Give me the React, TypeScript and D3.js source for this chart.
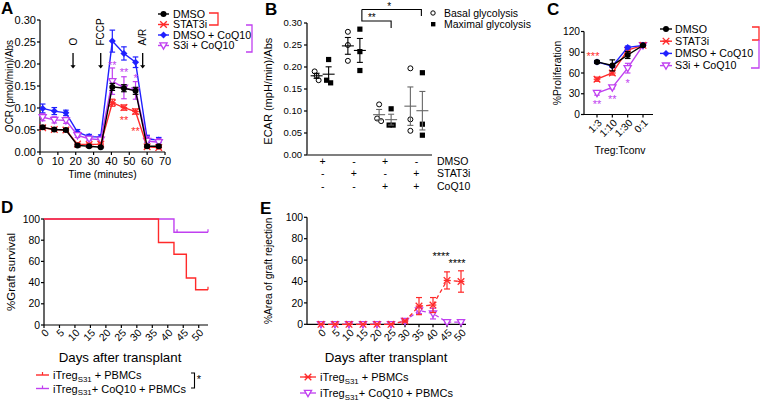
import React from "react";
import * as d3 from "d3";

const FONT = "'Liberation Sans', Arial, Helvetica, sans-serif";
const RED = "#ff2a2a";
const BLUE = "#2020ff";
const PURPLE = "#c040f0";
const BLACK = "#000000";

// ---------- Panel A data ----------
const timeA = [1.5, 8, 14.5, 21, 27.5, 34, 40.5, 47, 53.5, 60, 66.5];
const dmsoA = [0.056, 0.051, 0.05, 0.015, 0.013, 0.011, 0.148, 0.145, 0.139, 0.013, 0.013];
const dmsoAErr = [0.004, 0.003, 0.003, 0.003, 0.002, 0.002, 0.008, 0.008, 0.008, 0.003, 0.003];
const stat3iA = [0.055, 0.051, 0.05, 0.018, 0.017, 0.018, 0.112, 0.101, 0.092, 0.012, 0.01];
const stat3iAErr = [0.003, 0.003, 0.003, 0.003, 0.003, 0.003, 0.008, 0.006, 0.006, 0.003, 0.003];
const coqA = [0.099, 0.093, 0.089, 0.045, 0.035, 0.034, 0.252, 0.224, 0.204, 0.03, 0.027];
const coqAErr = [0.01, 0.008, 0.006, 0.006, 0.005, 0.005, 0.025, 0.015, 0.012, 0.008, 0.006];
const s3iCoqA = [0.079, 0.073, 0.072, 0.038, 0.03, 0.028, 0.161, 0.146, 0.14, 0.025, 0.022];
const s3iCoqAErr = [0.008, 0.007, 0.007, 0.005, 0.004, 0.004, 0.03, 0.025, 0.02, 0.01, 0.008];
const injectionsA = [
  { label: "O", t: 18.5 },
  { label: "FCCP", t: 34 },
  { label: "A/R", t: 57.5 },
];
const starsA = [
  { text: "**", t: 40.5, v: 0.203, color: PURPLE },
  { text: "**", t: 47, v: 0.187, color: PURPLE },
  { text: "*", t: 53.5, v: 0.172, color: PURPLE },
  { text: "**", t: 47, v: 0.078, color: RED },
  { text: "**", t: 53.5, v: 0.052, color: RED },
];

// ---------- Panel B data ----------
const dmsoRowB = ["+", "-", "+", "-"];
const stat3iRowB = ["-", "+", "-", "+"];
const coqRowB = ["-", "-", "+", "+"];
const basalB = [
  [0.19, 0.18, 0.17],
  [0.28, 0.25, 0.214],
  [0.115, 0.083, 0.077],
  [0.197, 0.081, 0.055],
];
const maximalB = [
  [0.217, 0.17, 0.164],
  [0.286, 0.235, 0.192],
  [0.105, 0.068, 0.068],
  [0.187, 0.07, 0.045],
];

// ---------- Panel C data ----------
const ratiosC = ["1:3", "1:10", "1:30", "0:1"];
const dmsoC = [76, 71, 86, 100];
const dmsoCErr = [2, 8, 5, 1];
const stat3iC = [51, 60, 93, 100];
const stat3iCErr = [3, 3, 2, 1];
const coqC = [76, 70, 97, 100];
const coqCErr = [2, 2, 2, 1];
const s3iCoqC = [31, 39, 67, 100];
const s3iCoqCErr = [3, 2, 7, 1];
const starsC = [
  { text: "***", i: 0, v: 88, color: RED, dx: -4 },
  { text: "**", i: 0, v: 18, color: PURPLE, dx: 0 },
  { text: "**", i: 1, v: 25, color: PURPLE, dx: 0 },
  { text: "*", i: 2, v: 48, color: PURPLE, dx: 0 },
];

// ---------- Panel D data ----------
const ticksD = [0, 5, 10, 15, 20, 25, 30, 35, 40, 45, 50];
const survRedDays = [0, 37, 42, 46, 49, 53];
const survRed = [100, 77.8, 66.7, 44.4, 33.3, 33.3];
const survRedCensor = [53];
const survPurpleDays = [0, 42, 53];
const survPurple = [100, 87.5, 87.5];
const survPurpleCensor = [43, 53];

// ---------- Panel E data ----------
const daysE = [0, 5, 10, 15, 20, 25, 30, 35, 40, 45, 50];
const rejRed = [0, 0, 0, 0, 0, 0, 3, 17, 18, 41, 40];
const rejRedErr = [0, 0, 0, 0, 0, 0, 1, 8, 7, 8, 10];
const rejPurple = [0, 0, 0, 0, 0, 0, 3, 13, 10, 2, 2];
const rejPurpleErr = [0, 0, 0, 0, 0, 0, 1, 3, 5, 1, 1];

type MType = "circle" | "star" | "diamond" | "tri";

function Marker({ type, x, y, color, s = 1 }: { type: MType; x: number; y: number; color: string; s?: number }) {
  if (type === "circle") return <circle cx={x} cy={y} r={3 * s} fill={color} />;
  if (type === "diamond")
    return (
      <path
        d={`M${x},${y - 3.5 * s}L${x + 3.5 * s},${y}L${x},${y + 3.5 * s}L${x - 3.5 * s},${y}Z`}
        fill={color}
      />
    );
  if (type === "tri")
    return (
      <path
        d={`M${x - 3.6 * s},${y - 2.6 * s}L${x + 3.6 * s},${y - 2.6 * s}L${x},${y + 3.6 * s}Z`}
        fill="#fff"
        stroke={color}
        strokeWidth={1.3}
      />
    );
  const r = 3.3 * s;
  return (
    <g stroke={color} strokeWidth={1.3}>
      <line x1={x - r} y1={y - r} x2={x + r} y2={y + r} />
      <line x1={x - r} y1={y + r} x2={x + r} y2={y - r} />
      <line x1={x - r} y1={y} x2={x + r} y2={y} />
    </g>
  );
}

function ErrBar({ x, y1, y2, color, cap = 3, w = 1.2 }: { x: number; y1: number; y2: number; color: string; cap?: number; w?: number }) {
  return (
    <g stroke={color} strokeWidth={w}>
      <line x1={x} y1={y1} x2={x} y2={y2} />
      <line x1={x - cap} y1={y1} x2={x + cap} y2={y1} />
      <line x1={x - cap} y1={y2} x2={x + cap} y2={y2} />
    </g>
  );
}

function PanelA() {
  const x = d3.scaleLinear().domain([0, 70]).range([40, 165]);
  const y = d3.scaleLinear().domain([0, 0.3]).range([152, 20]);
  const series = [
    { name: "DMSO", v: dmsoA, e: dmsoAErr, c: BLACK, m: "circle" as MType },
    { name: "STAT3i", v: stat3iA, e: stat3iAErr, c: RED, m: "star" as MType },
    { name: "DMSO + CoQ10", v: coqA, e: coqAErr, c: BLUE, m: "diamond" as MType },
    { name: "S3i + CoQ10", v: s3iCoqA, e: s3iCoqAErr, c: PURPLE, m: "tri" as MType },
  ];
  const drawOrder = [2, 3, 1, 0];
  const line = d3
    .line<number>()
    .x((_, i) => x(timeA[i]))
    .y((d) => y(d));
  const yt = d3.range(0, 0.3001, 0.05);
  const xt = d3.range(0, 71, 10);
  return (
    <g>
      <text x={1} y={14} fontSize={17} fontWeight="bold">A</text>
      {/* axes */}
      <line x1={40} y1={y(0.3)} x2={40} y2={152} stroke="#000" strokeWidth={1.2} />
      <line x1={40} y1={152} x2={x(70)} y2={152} stroke="#000" strokeWidth={1.2} />
      {yt.map((t) => (
        <g key={t}>
          <line x1={37} x2={40} y1={y(t)} y2={y(t)} stroke="#000" strokeWidth={1.2} />
          <text x={36} y={y(t) + 3.8} fontSize={11} textAnchor="end">{t.toFixed(2)}</text>
        </g>
      ))}
      {xt.map((t) => (
        <g key={t}>
          <line x1={x(t)} x2={x(t)} y1={152} y2={155} stroke="#000" strokeWidth={1.2} />
          <text x={x(t)} y={165} fontSize={11} textAnchor="middle">{t}</text>
        </g>
      ))}
      <text x={x(35)} y={178} fontSize={10.3} textAnchor="middle">Time (minutes)</text>
      <text transform={`translate(13,${y(0.15)}) rotate(-90)`} fontSize={10} textAnchor="middle">
        OCR (pmol/min)/Abs
      </text>
      {/* injection arrows */}
      {injectionsA.map((a) => (
        <g key={a.label}>
          <line x1={x(a.t)} x2={x(a.t)} y1={y(0.225)} y2={y(0.195)} stroke="#000" strokeWidth={1.3} />
          <path d={`M${x(a.t) - 2.6},${y(0.197)}L${x(a.t) + 2.6},${y(0.197)}L${x(a.t)},${y(0.19)}Z`} fill="#000" />
          <text
            transform={`translate(${x(a.t) + 3.6},${y(0.242)}) rotate(-90)`}
            fontSize={10}
            textAnchor="start"
          >
            {a.label}
          </text>
        </g>
      ))}
      {/* series */}
      {drawOrder.map((si) => {
        const s = series[si];
        return (
          <g key={s.name}>
            <path d={line(s.v) || ""} fill="none" stroke={s.c} strokeWidth={1.4} />
            {s.v.map((v, i) => (
              <ErrBar key={"e" + i} x={x(timeA[i])} y1={y(v - s.e[i])} y2={y(v + s.e[i])} color={s.c} cap={2.8} />
            ))}
            {s.v.map((v, i) => (
              <Marker key={"m" + i} type={s.m} x={x(timeA[i])} y={y(v)} color={s.c} />
            ))}
          </g>
        );
      })}
      {starsA.map((s, i) => (
        <text key={i} x={x(s.t)} y={y(s.v) + 6} fontSize={11} fill={s.color} textAnchor="middle">
          {s.text}
        </text>
      ))}
      {/* legend */}
      {series.map((s, i) => {
        const ly = 14 + i * 10.5;
        return (
          <g key={s.name}>
            <line x1={158} x2={169} y1={ly} y2={ly} stroke={s.c} strokeWidth={1.4} />
            <Marker type={s.m} x={163.5} y={ly} color={s.c} />
            <text x={173} y={ly + 3.8} fontSize={10.7}>{s.name}</text>
          </g>
        );
      })}
      <path d="M209,13H218V25H209" fill="none" stroke={RED} strokeWidth={1.3} />
      <path d="M246,25H252V52H246" fill="none" stroke={PURPLE} strokeWidth={1.3} />
    </g>
  );
}

function PanelB() {
  const xb = d3.scaleBand<number>().domain([0, 1, 2, 3]).range([307, 432]);
  const bw = xb.bandwidth();
  const y = d3.scaleLinear().domain([0, 0.3]).range([155, 23]);
  const yt = d3.range(0, 0.3001, 0.05);
  const jitter = (vals: number[]) =>
    vals.map((v, j) => {
      const close = vals.map((w, k) => (Math.abs(w - v) < 0.012 ? k : -1)).filter((k) => k >= 0);
      if (close.length < 2) return 0;
      const pos = close.indexOf(j);
      return (pos - (close.length - 1) / 2) * 4;
    });
  const sem = (a: number[]) => (d3.deviation(a) || 0) / Math.sqrt(a.length);
  const rows = [
    { name: "DMSO", v: dmsoRowB },
    { name: "STAT3i", v: stat3iRowB },
    { name: "CoQ10", v: coqRowB },
  ];
  const c = (i: number) => (xb(i) || 0) + bw / 2;
  return (
    <g>
      <text x={265} y={15} fontSize={17} fontWeight="bold">B</text>
      <line x1={307} y1={y(0.3)} x2={307} y2={155} stroke="#000" strokeWidth={1.2} />
      <line x1={307} y1={155} x2={432} y2={155} stroke="#555" strokeWidth={1.6} />
      {yt.map((t) => (
        <g key={t}>
          <line x1={304} x2={307} y1={y(t)} y2={y(t)} stroke="#000" strokeWidth={1.2} />
          <text x={302} y={y(t) + 3.3} fontSize={9.5} textAnchor="end">{t.toFixed(2)}</text>
        </g>
      ))}
      <text transform={`translate(272,${y(0.145)}) rotate(-90)`} fontSize={11} textAnchor="middle">
        ECAR (mpH/min)/Abs
      </text>
      {rows.map((r, ri) => (
        <g key={r.name}>
          {r.v.map((s, i) => (
            <text key={i} x={c(i)} y={164.5 + ri * 12.5} fontSize={10.5} textAnchor="middle">{s}</text>
          ))}
          <text x={437} y={164.5 + ri * 12.5} fontSize={10.5}>{r.name}</text>
        </g>
      ))}
      {[0, 1, 2, 3].map((g) => {
        const ec = g < 2 ? "#000" : "#666";
        const sets = [
          { vals: basalB[g], off: -6, kind: "o" },
          { vals: maximalB[g], off: 6, kind: "s" },
        ];
        return (
          <g key={g}>
            {sets.map((st, si) => {
              const cx = c(g) + st.off;
              const m = d3.mean(st.vals) || 0;
              const e = sem(st.vals);
              const jit = jitter(st.vals);
              return (
                <g key={si}>
                  {st.vals.map((v, j) =>
                    st.kind === "o" ? (
                      <circle key={j} cx={cx + jit[j]} cy={y(v)} r={2.5} fill="#fff" stroke="#000" strokeWidth={1} />
                    ) : (
                      <rect key={j} x={cx + jit[j] - 2.6} y={y(v) - 2.6} width={5.2} height={5.2} fill="#000" />
                    )
                  )}
                  <line x1={cx - 6} x2={cx + 6} y1={y(m)} y2={y(m)} stroke={ec} strokeWidth={1.1} />
                  <ErrBar x={cx} y1={y(m - e)} y2={y(m + e)} color={ec} cap={3} w={1.1} />
                </g>
              );
            })}
          </g>
        );
      })}
      {/* significance */}
      <path d={`M${c(1) + 8},9.5V21H${c(2) + 6}V28`} fill="none" stroke="#000" strokeWidth={1.1} />
      <path d={`M${c(1) + 8},9.5H${c(3) + 5}V16`} fill="none" stroke="#000" strokeWidth={1.1} />
      <text x={c(1) + 18} y={21} fontSize={10} textAnchor="middle">**</text>
      <text x={c(2) + 4} y={10} fontSize={10} textAnchor="middle">*</text>
      {/* legend */}
      <circle cx={433} cy={13} r={2.2} fill="#fff" stroke="#000" strokeWidth={1} />
      <text x={444} y={16.8} fontSize={10.5}>Basal glycolysis</text>
      <rect x={431} y={22} width={4.4} height={4.4} fill="#000" />
      <text x={444} y={28} fontSize={10.5}>Maximal glycolysis</text>
    </g>
  );
}

function PanelC() {
  const x = d3.scalePoint<string>().domain(ratiosC).range([597, 643]);
  const y = d3.scaleLinear().domain([0, 120]).range([114.5, 31.5]);
  const series = [
    { name: "DMSO", v: dmsoC, e: dmsoCErr, c: BLACK, m: "circle" as MType },
    { name: "STAT3i", v: stat3iC, e: stat3iCErr, c: RED, m: "star" as MType },
    { name: "DMSO + CoQ10", v: coqC, e: coqCErr, c: BLUE, m: "diamond" as MType },
    { name: "S3i + CoQ10", v: s3iCoqC, e: s3iCoqCErr, c: PURPLE, m: "tri" as MType },
  ];
  const drawOrder = [3, 1, 2, 0];
  const line = d3
    .line<number>()
    .x((_, i) => x(ratiosC[i]) || 0)
    .y((d) => y(d));
  const yt = [0, 30, 60, 90, 120];
  return (
    <g>
      <text x={547} y={15} fontSize={17} fontWeight="bold">C</text>
      <line x1={584} y1={y(120)} x2={584} y2={114.5} stroke="#000" strokeWidth={1.2} />
      <line x1={584} y1={114.5} x2={653} y2={114.5} stroke="#000" strokeWidth={1.2} />
      {yt.map((t) => (
        <g key={t}>
          <line x1={581} x2={584} y1={y(t)} y2={y(t)} stroke="#000" strokeWidth={1.2} />
          <text x={580} y={y(t) + 3.6} fontSize={10.2} textAnchor="end">{t}</text>
        </g>
      ))}
      {ratiosC.map((r) => (
        <g key={r}>
          <line x1={x(r)} x2={x(r)} y1={114.5} y2={117.5} stroke="#000" strokeWidth={1.2} />
          <text
            transform={`translate(${(x(r) || 0) + 3},${121}) rotate(-45)`}
            fontSize={10.2}
            textAnchor="end"
            dominantBaseline="central"
          >
            {r}
          </text>
        </g>
      ))}
      <text x={620} y={154} fontSize={10.4} textAnchor="middle">Treg:Tconv</text>
      <text transform={`translate(561,${y(60)}) rotate(-90)`} fontSize={10.4} textAnchor="middle">
        %Proliferation
      </text>
      {drawOrder.map((si) => {
        const s = series[si];
        return (
          <g key={s.name}>
            <path d={line(s.v) || ""} fill="none" stroke={s.c} strokeWidth={1.4} />
            {s.v.map((v, i) => (
              <ErrBar key={"e" + i} x={x(ratiosC[i]) || 0} y1={y(v - s.e[i])} y2={y(v + s.e[i])} color={s.c} cap={2.8} />
            ))}
            {s.v.map((v, i) => (
              <Marker key={"m" + i} type={s.m} x={x(ratiosC[i]) || 0} y={y(v)} color={s.c} />
            ))}
          </g>
        );
      })}
      {starsC.map((s, i) => (
        <text key={i} x={(x(ratiosC[s.i]) || 0) + s.dx} y={y(s.v) + 6} fontSize={11} fill={s.color} textAnchor="middle">
          {s.text}
        </text>
      ))}
      {series.map((s, i) => {
        const ly = 29 + i * 12.2;
        return (
          <g key={s.name}>
            <line x1={660} x2={672} y1={ly} y2={ly} stroke={s.c} strokeWidth={1.4} />
            <Marker type={s.m} x={666} y={ly} color={s.c} />
            <text x={675} y={ly + 3.8} fontSize={10.7}>{s.name}</text>
          </g>
        );
      })}
      <path d="M752,27H759V40H752" fill="none" stroke={RED} strokeWidth={1.3} />
      <path d="M759,40V68H751" fill="none" stroke={PURPLE} strokeWidth={1.3} />
    </g>
  );
}

function Subscripted({ x, y, size, rest }: { x: number; y: number; size: number; rest: string }) {
  return (
    <text x={x} y={y} fontSize={size}>
      iTreg
      <tspan fontSize={size * 0.72} dy={2.5}>S31</tspan>
      <tspan dy={-2.5}>{rest}</tspan>
    </text>
  );
}

function PanelD() {
  const x = d3.scaleLinear().domain([0, 53]).range([44, 208]);
  const y = d3.scaleLinear().domain([0, 100]).range([325, 219]);
  const step = d3
    .line<[number, number]>()
    .x((d) => x(d[0]))
    .y((d) => y(d[1]))
    .curve(d3.curveStepAfter);
  const redPts = survRedDays.map((d, i) => [d, survRed[i]] as [number, number]);
  const purPts = survPurpleDays.map((d, i) => [d, survPurple[i]] as [number, number]);
  const valAt = (days: number[], vals: number[], t: number) => {
    let v = vals[0];
    days.forEach((d, i) => {
      if (t >= d) v = vals[i];
    });
    return v;
  };
  const yt = [0, 20, 40, 60, 80, 100];
  return (
    <g>
      <text x={1} y={213} fontSize={17} fontWeight="bold">D</text>
      <line x1={44} y1={219} x2={44} y2={325} stroke="#000" strokeWidth={1.2} />
      <line x1={44} y1={325} x2={208} y2={325} stroke="#000" strokeWidth={1.2} />
      {yt.map((t) => (
        <g key={t}>
          <line x1={41} x2={44} y1={y(t)} y2={y(t)} stroke="#000" strokeWidth={1.2} />
          <text x={40} y={y(t) + 3.6} fontSize={10.4} textAnchor="end">{t}</text>
        </g>
      ))}
      {ticksD.map((t) => (
        <g key={t}>
          <line x1={x(t)} x2={x(t)} y1={325} y2={328} stroke="#000" strokeWidth={1.2} />
          <text
            transform={`translate(${x(t) + 3},${331}) rotate(-45)`}
            fontSize={10.4}
            textAnchor="end"
            dominantBaseline="central"
          >
            {t}
          </text>
        </g>
      ))}
      <text x={120} y={362} fontSize={13.3} textAnchor="middle">Days after transplant</text>
      <text transform={`translate(15,${y(50)}) rotate(-90)`} fontSize={11.5} textAnchor="middle">
        %Graft survival
      </text>
      <path d={step(purPts) || ""} fill="none" stroke={PURPLE} strokeWidth={1.4} />
      {survPurpleCensor.map((t, i) => (
        <line key={i} x1={x(t)} x2={x(t)} y1={y(valAt(survPurpleDays, survPurple, t)) - 3} y2={y(valAt(survPurpleDays, survPurple, t))} stroke={PURPLE} strokeWidth={1.2} />
      ))}
      <path d={step(redPts) || ""} fill="none" stroke={RED} strokeWidth={1.4} />
      {survRedCensor.map((t, i) => (
        <line key={i} x1={x(t)} x2={x(t)} y1={y(valAt(survRedDays, survRed, t)) - 3} y2={y(valAt(survRedDays, survRed, t))} stroke={RED} strokeWidth={1.2} />
      ))}
      {/* legend */}
      <line x1={36} x2={49} y1={375} y2={375} stroke={RED} strokeWidth={1.4} />
      <line x1={42.5} x2={42.5} y1={372} y2={375} stroke={RED} strokeWidth={1.2} />
      <Subscripted x={53} y={379} size={11} rest=" + PBMCs" />
      <line x1={36} x2={49} y1={388.5} y2={388.5} stroke={PURPLE} strokeWidth={1.4} />
      <line x1={42.5} x2={42.5} y1={385.5} y2={388.5} stroke={PURPLE} strokeWidth={1.2} />
      <Subscripted x={53} y={392.5} size={11} rest="+ CoQ10 + PBMCs" />
      <path d="M191,373H194.5V388H191" fill="none" stroke="#000" strokeWidth={1.1} />
      <text x={199} y={383} fontSize={11} textAnchor="middle">*</text>
    </g>
  );
}

function PanelE() {
  const x = d3.scaleLinear().domain([0, 50]).range([321, 461]);
  const y = d3.scaleLinear().domain([0, 100]).range([324.3, 217.3]);
  const yt = [0, 20, 40, 60, 80, 100];
  const line = d3
    .line<number>()
    .x((_, i) => x(daysE[i]))
    .y((d) => y(d));
  const series = [
    { v: rejPurple, e: rejPurpleErr, c: PURPLE, m: "tri" as MType },
    { v: rejRed, e: rejRedErr, c: RED, m: "star" as MType },
  ];
  return (
    <g>
      <text x={260} y={214} fontSize={17} fontWeight="bold">E</text>
      <line x1={307} y1={217.3} x2={307} y2={324.3} stroke="#000" strokeWidth={1.2} />
      <line x1={307} y1={324.3} x2={466} y2={324.3} stroke="#000" strokeWidth={1.2} />
      {yt.map((t) => (
        <g key={t}>
          <line x1={304} x2={307} y1={y(t)} y2={y(t)} stroke="#000" strokeWidth={1.2} />
          <text x={303} y={y(t) + 3.6} fontSize={10.4} textAnchor="end">{t}</text>
        </g>
      ))}
      {daysE.map((t) => (
        <g key={t}>
          <line x1={x(t)} x2={x(t)} y1={324.3} y2={327.3} stroke="#000" strokeWidth={1.2} />
          <text
            transform={`translate(${x(t) + 3},${331}) rotate(-45)`}
            fontSize={10.4}
            textAnchor="end"
            dominantBaseline="central"
          >
            {t}
          </text>
        </g>
      ))}
      <text x={386} y={362} fontSize={13.3} textAnchor="middle">Days after transplant</text>
      <text transform={`translate(272,${y(50)}) rotate(-90)`} fontSize={10.2} textAnchor="middle">
        %Area of graft rejection
      </text>
      {series.map((s, si) => (
        <g key={si}>
          <path d={line(s.v) || ""} fill="none" stroke={s.c} strokeWidth={1.3} strokeDasharray="4,3" />
          {s.v.map((v, i) =>
            s.e[i] > 0 ? (
              <ErrBar key={"e" + i} x={x(daysE[i])} y1={y(v - s.e[i])} y2={y(v + s.e[i])} color={s.c} cap={3} />
            ) : null
          )}
          {s.v.map((v, i) => (
            <Marker key={"m" + i} type={s.m} x={x(daysE[i])} y={y(v)} color={s.c} />
          ))}
        </g>
      ))}
      <text x={441} y={260} fontSize={11} textAnchor="middle">****</text>
      <text x={457} y={267} fontSize={11} textAnchor="middle">****</text>
      {/* legend */}
      <line x1={300} x2={316} y1={377} y2={377} stroke={RED} strokeWidth={1.3} />
      <Marker type="star" x={308} y={377} color={RED} />
      <Subscripted x={320} y={381} size={11} rest=" + PBMCs" />
      <line x1={300} x2={316} y1={393} y2={393} stroke={PURPLE} strokeWidth={1.3} />
      <Marker type="tri" x={308} y={393} color={PURPLE} />
      <Subscripted x={320} y={397} size={11} rest="+ CoQ10 + PBMCs" />
    </g>
  );
}

export default function App() {
  return (
    <svg
      width={761}
      height={400}
      style={{ position: "absolute", left: 0, top: 0, background: "#fff" }}
      fontFamily={FONT}
    >
      <rect width={761} height={400} fill="#fff" />
      <PanelA />
      <PanelB />
      <PanelC />
      <PanelD />
      <PanelE />
    </svg>
  );
}
